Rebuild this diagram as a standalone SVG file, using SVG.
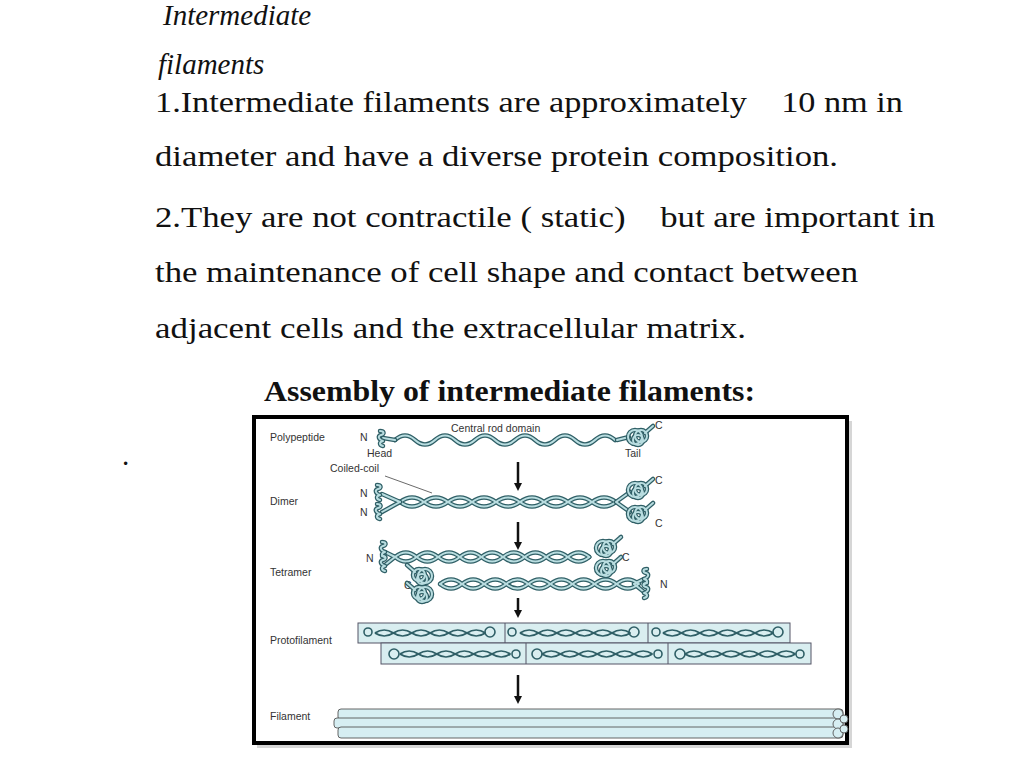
<svg xmlns="http://www.w3.org/2000/svg" width="1024" height="768" viewBox="0 0 1024 768">
<style>
.t{font-family:"Liberation Serif",serif;font-size:29px;fill:#111;white-space:pre}
.l{font-family:"Liberation Sans",sans-serif;font-size:10.5px;fill:#333}
.o{fill:none;stroke:#2f5f66;stroke-width:4.5;stroke-linecap:round}
.i{fill:none;stroke:#b9dde0;stroke-width:2;stroke-linecap:round}
.box{fill:#d9eef0;stroke:#556;stroke-width:1}
.ar{stroke:#111;stroke-width:2.5}
</style>
<defs>
<marker id="ah" markerWidth="8" markerHeight="8" refX="4" refY="4" orient="auto" markerUnits="userSpaceOnUse"><path d="M0,0 L8,4 L0,8 z" fill="#111"/></marker>
<path id="head" d="M0,0 c-4,-1 -6,-5 -2,-6 c4,-1 3,-4 -1,-4 M0,0 c-4,1 -4,4 0,5"/>
<g id="tail"><circle cx="0" cy="0" r="7"/><circle cx="6" cy="-1" r="6"/><circle cx="3" cy="3" r="5"/><path d="M10,-4 l8,-7"/></g>
<path id="wave" d="M395,440 q10,-9 20,0 t20,0 t20,0 t20,0 t20,0 t20,0 t20,0 t20,0 t20,0 t20,0 t20,0"/>
<g id="helix"><path d="M0,0 q12,-9 24,0 t24,0 t24,0 t24,0 t24,0 t24,0 t24,0 t24,0 t24,0"/><path d="M0,0 q12,9 24,0 t24,0 t24,0 t24,0 t24,0 t24,0 t24,0 t24,0 t24,0"/></g>
<g id="mini"><path d="M0,0 q8,-6 16,0 t16,0 t16,0 t16,0 t16,0 t16,0"/><path d="M0,0 q8,6 16,0 t16,0 t16,0 t16,0 t16,0 t16,0"/></g>
</defs>
<rect width="1024" height="768" fill="#fff"/>
<text class="t" x="163" y="25" font-style="italic">Intermediate</text>
<text class="t" x="158" y="74" font-style="italic">filaments</text>
<text class="t" x="155" y="112" xml:space="preserve" textLength="748" lengthAdjust="spacingAndGlyphs">1.Intermediate filaments are approximately    10 nm in</text>
<text class="t" x="155" y="166" textLength="683" lengthAdjust="spacingAndGlyphs">diameter and have a diverse protein composition.</text>
<text class="t" x="155" y="227" xml:space="preserve" textLength="780" lengthAdjust="spacingAndGlyphs">2.They are not contractile ( static)    but are important in</text>
<text class="t" x="155" y="282" textLength="703" lengthAdjust="spacingAndGlyphs">the maintenance of cell shape and contact between</text>
<text class="t" x="155" y="338" textLength="591" lengthAdjust="spacingAndGlyphs">adjacent cells and the extracellular matrix.</text>
<text class="t" x="264" y="401" font-weight="bold" textLength="491" lengthAdjust="spacingAndGlyphs">Assembly of intermediate filaments:</text>
<text class="t" x="122" y="465">.</text>
<rect x="257" y="421" width="595" height="327" fill="#999" opacity="0.4"/>
<rect x="254" y="417" width="593" height="326" fill="#fff" stroke="#000" stroke-width="4"/>
<g id="labels" class="l">
<text x="270" y="441">Polypeptide</text><text x="270" y="505">Dimer</text><text x="270" y="576">Tetramer</text><text x="270" y="644">Protofilament</text><text x="270" y="720">Filament</text>
<text x="451" y="432">Central rod domain</text><text x="367" y="457">Head</text><text x="625" y="457">Tail</text><text x="330" y="472">Coiled-coil</text>
<text x="360" y="441">N</text><text x="655" y="429">C</text>
<text x="360" y="497">N</text><text x="360" y="516">N</text><text x="655" y="484">C</text><text x="655" y="527">C</text>
<text x="366" y="562">N</text><text x="622" y="561">C</text><text x="404" y="589">C</text><text x="660" y="588">N</text>
</g>
<line x1="385" y1="476" x2="432" y2="493" stroke="#444" stroke-width="0.8"/>
<g id="poly">
<use href="#wave" class="o"/><use href="#wave" class="i"/>
<path d="M395,440 l-12,-2" class="o"/><path d="M395,440 l-12,-2" class="i"/>
<g transform="translate(383,441)" class="o"><use href="#head"/></g><g transform="translate(383,441)" class="i"><use href="#head"/></g>
<path d="M617,440 l12,-3" class="o"/><path d="M617,440 l12,-3" class="i"/>
<g transform="translate(635,437)" class="o"><use href="#tail"/></g><g transform="translate(635,437)" class="i"><use href="#tail"/></g>
</g>
<g id="dimer">
<g transform="translate(400,502)" class="o"><use href="#helix"/></g><g transform="translate(400,502)" class="i"><use href="#helix"/></g>
<path d="M400,502 l-18,-8 M400,502 l-18,10 M616,502 l14,-10 M616,502 l14,10" class="o"/><path d="M400,502 l-18,-8 M400,502 l-18,10 M616,502 l14,-10 M616,502 l14,10" class="i"/>
<g class="o"><use href="#head" transform="translate(380,495)"/><use href="#head" transform="translate(380,514)"/><use href="#tail" transform="translate(635,490)"/><use href="#tail" transform="translate(635,514)"/></g>
<g class="i"><use href="#head" transform="translate(380,495)"/><use href="#head" transform="translate(380,514)"/><use href="#tail" transform="translate(635,490)"/><use href="#tail" transform="translate(635,514)"/></g>
</g>
<g id="tetramer">
<g class="o"><use href="#helix" transform="translate(395,557) scale(0.9,1)"/><use href="#helix" transform="translate(440,584) scale(0.92,1)"/><path d="M395,557 l-10,-5 M395,557 l-10,8 M634,584 l10,-5 M634,584 l10,8"/></g>
<g class="i"><use href="#helix" transform="translate(395,557) scale(0.9,1)"/><use href="#helix" transform="translate(440,584) scale(0.92,1)"/><path d="M395,557 l-10,-5 M395,557 l-10,8 M634,584 l10,-5 M634,584 l10,8"/></g>
<g class="o"><use href="#head" transform="translate(385,552)"/><use href="#head" transform="translate(385,566)"/><use href="#tail" transform="translate(603,548)"/><use href="#tail" transform="translate(603,568)"/><use href="#tail" transform="translate(425,576) scale(-1,1)"/><use href="#tail" transform="translate(425,594) scale(-1,1)"/><use href="#head" transform="translate(644,579) scale(-1,1)"/><use href="#head" transform="translate(644,593) scale(-1,1)"/></g>
<g class="i"><use href="#head" transform="translate(385,552)"/><use href="#head" transform="translate(385,566)"/><use href="#tail" transform="translate(603,548)"/><use href="#tail" transform="translate(603,568)"/><use href="#tail" transform="translate(425,576) scale(-1,1)"/><use href="#tail" transform="translate(425,594) scale(-1,1)"/><use href="#head" transform="translate(644,579) scale(-1,1)"/><use href="#head" transform="translate(644,593) scale(-1,1)"/></g>
</g>
<g id="protofilament">
<rect class="box" x="358" y="623" width="432" height="20"/><rect class="box" x="381" y="643" width="430" height="21"/>
<path d="M505,623 v20 M648,623 v20 M526,643 v21 M668,643 v21" stroke="#556" stroke-width="1"/>
<g fill="none" stroke="#2f5f66" stroke-width="1.6">
<use href="#mini" transform="translate(375,633) scale(1.15,1)"/><use href="#mini" transform="translate(520,633) scale(1.15,1)"/><use href="#mini" transform="translate(663,633) scale(1.15,1)"/>
<use href="#mini" transform="translate(400,654) scale(1.15,1)"/><use href="#mini" transform="translate(542,654) scale(1.15,1)"/><use href="#mini" transform="translate(685,654) scale(1.15,1)"/>
<circle cx="368" cy="632" r="4"/><circle cx="490" cy="632" r="5"/><circle cx="512" cy="632" r="4"/><circle cx="634" cy="632" r="5"/><circle cx="656" cy="632" r="4"/><circle cx="778" cy="632" r="5"/>
<circle cx="394" cy="654" r="5"/><circle cx="516" cy="654" r="4"/><circle cx="537" cy="654" r="5"/><circle cx="658" cy="654" r="4"/><circle cx="680" cy="654" r="5"/><circle cx="800" cy="654" r="4"/>
</g>
</g>
<g id="filament" fill="#d6eef2" stroke="#555" stroke-width="0.9">
<rect x="338" y="709" width="505" height="11" rx="3"/>
<rect x="334" y="718" width="510" height="10" rx="3"/>
<rect x="338" y="727" width="505" height="11" rx="3"/>
<circle cx="838" cy="714" r="5"/><circle cx="838" cy="724" r="5"/><circle cx="838" cy="733" r="5"/><circle cx="844" cy="719" r="4"/><circle cx="844" cy="729" r="4"/>
</g>
<g id="connectors">
<line class="ar" x1="518" y1="462" x2="518" y2="487" marker-end="url(#ah)"/>
<line class="ar" x1="518" y1="522" x2="518" y2="546" marker-end="url(#ah)"/>
<line class="ar" x1="518" y1="598" x2="518" y2="614" marker-end="url(#ah)"/>
<line class="ar" x1="518" y1="675" x2="518" y2="700" marker-end="url(#ah)"/>
</g>
</svg>
